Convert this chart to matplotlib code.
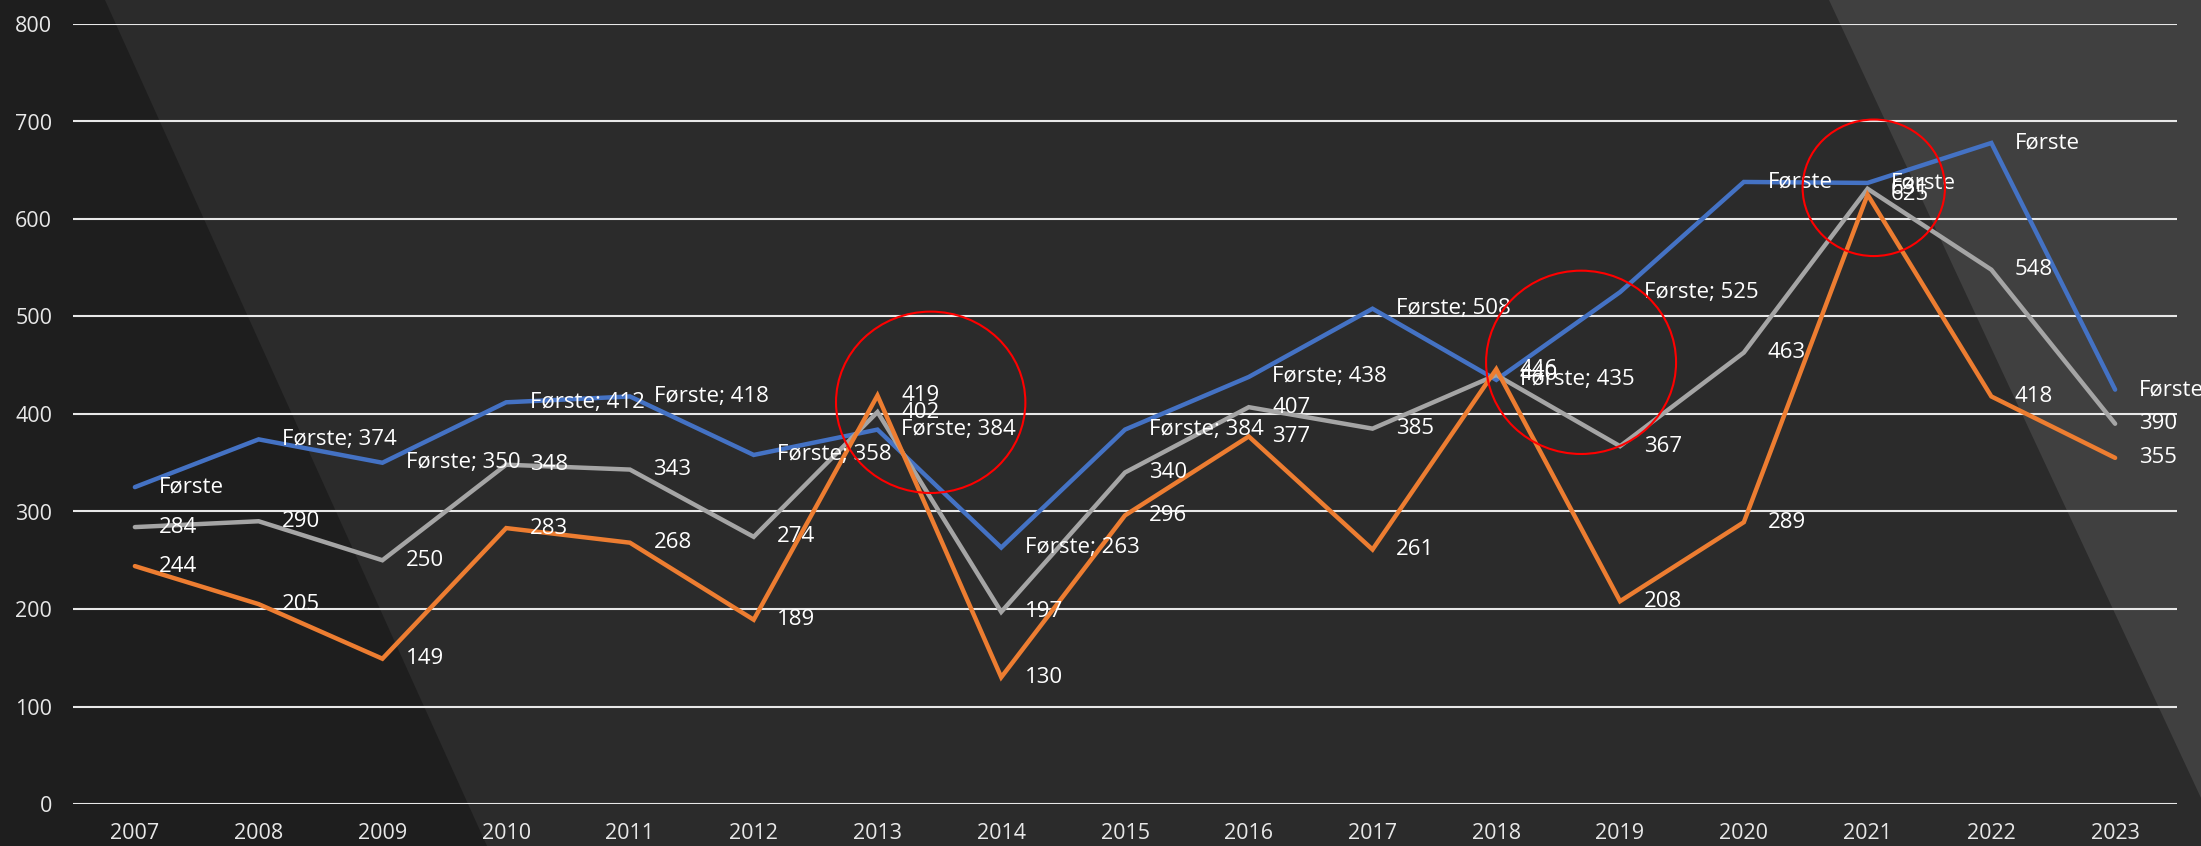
import matplotlib
matplotlib.use("Agg")
import matplotlib.pyplot as plt
from matplotlib.patches import Polygon, Ellipse

plt.rcParams.update({"font.family": ["Open Sans", "DejaVu Sans"], "font.size": 15})

years = [str(y) for y in range(2007, 2024)]
blue = [325, 374, 350, 412, 418, 358, 384, 263, 384, 438, 508, 435, 525, 638, 637, 678, 425]
gray = [284, 290, 250, 348, 343, 274, 402, 197, 340, 407, 385, 440, 367, 463, 631, 548, 390]
orange = [244, 205, 149, 283, 268, 189, 419, 130, 296, 377, 261, 446, 208, 289, 625, 418, 355]
# blue labels where the value is missing (only series name shown)
name_only = [0, 13, 14, 15, 16]
series_name = "Første"

# highlighted spots: (x centre in category units, y centre, width, height)
circles = [(6.43, 412, 1.53, 186), (11.685, 453, 1.535, 188), (14.05, 632, 1.15, 140)]

W, H = 2201, 846
fig = plt.figure(figsize=(W / 100, H / 100), dpi=100, facecolor="#2b2b2b")
fig.patches.append(Polygon([(0, 1), (105 / W, 1), (487 / W, 0), (0, 0)],
                           closed=True, transform=fig.transFigure, facecolor="#1e1e1e",
                           edgecolor="none", zorder=-10))
fig.patches.append(Polygon([(1829 / W, 1), (1, 1), (1, 1 - 798 / H)],
                           closed=True, transform=fig.transFigure, facecolor="#404040",
                           edgecolor="none", zorder=-10))

ax = fig.add_axes([73 / W, 42 / H, (2177 - 73) / W, (804 - 24) / H])
ax.set_facecolor("none")
x = list(range(len(years)))

for vals, col in [(blue, "#4472c4"), (gray, "#a5a5a5"), (orange, "#ed7d31")]:
    ax.plot(x, vals, color=col, linewidth=3.2, solid_capstyle="round",
            solid_joinstyle="miter", zorder=3)

lab = dict(textcoords="offset points", xytext=(17, 0), ha="left", va="center",
           color="white", fontsize=16, zorder=5)
for i, v in enumerate(blue):
    txt = series_name if i in name_only else f"{series_name}; {v}"
    ax.annotate(txt, (i, v), **lab)
for vals in (gray, orange):
    for i, v in enumerate(vals):
        ax.annotate(str(v), (i, v), **lab)

for cx, cy, w, h in circles:
    ax.add_patch(Ellipse((cx, cy), w, h, fill=False, edgecolor="#ff0000",
                         linewidth=1.5, zorder=6))

ax.set_xlim(-0.5, len(years) - 0.5)
ax.set_ylim(0, 800)
ax.set_yticks(range(0, 801, 100))
ax.set_xticks(x)
ax.set_xticklabels(years)
ax.grid(axis="y", color="#e8e8e8", linewidth=1.5, zorder=1)
ax.set_axisbelow(True)
for s in ax.spines.values():
    s.set_visible(False)
ax.tick_params(axis="both", length=0, colors="#e8e8e8", labelsize=15.5)
ax.tick_params(axis="y", pad=15)
ax.tick_params(axis="x", pad=14)

fig.savefig("out.png", dpi=100, facecolor=fig.get_facecolor())
